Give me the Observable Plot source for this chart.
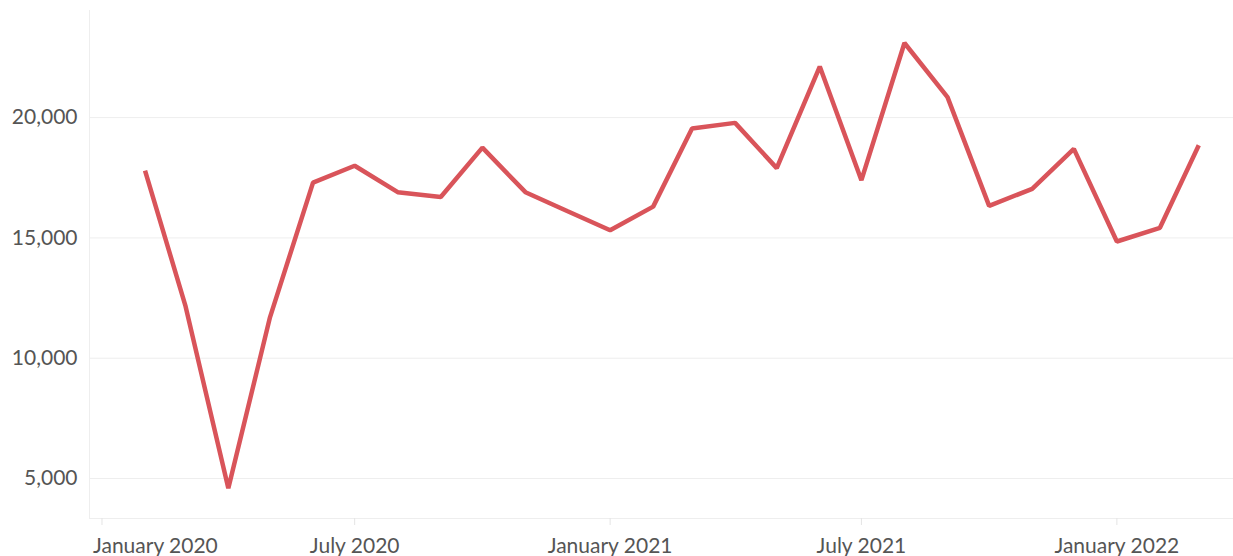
<!DOCTYPE html>
<html>
<head>
<meta charset="utf-8">
<script src="https://cdn.jsdelivr.net/npm/d3@7"></script>
<script src="https://cdn.jsdelivr.net/npm/@observablehq/plot@0.6"></script>
<style>
  html, body { margin: 0; padding: 0; background: #fff; }
  #chart svg { display: block; }
</style>
</head>
<body>
<div id="chart"></div>
<script>
// Monthly values (first of each month)
const months = ["2020-02","2020-03","2020-04","2020-05","2020-06","2020-07","2020-08","2020-09","2020-10","2020-11","2020-12",
                "2021-01","2021-02","2021-03","2021-04","2021-05","2021-06","2021-07","2021-08","2021-09","2021-10","2021-11","2021-12",
                "2022-01","2022-02","2022-03"];
const values = [17800,12200,4600,11700,17300,18000,16900,16700,18750,16900,16120,
                15320,16300,19550,19780,17900,22120,17400,23100,20850,16330,17040,18700,
                14850,15420,18850];
const xTicks = ["2020-01","2020-07","2021-01","2021-07","2022-01"];
const xTickLabels = ["January 2020","July 2020","January 2021","July 2021","January 2022"];
const yTicks = [5000, 10000, 15000, 20000];
const xDomain = ["2019-12-23","2022-03-26"];
const yDomain = [3340, 24450];

const parse = d3.utcParse("%Y-%m");
const parseDay = d3.utcParse("%Y-%m-%d");
const data = months.map((m, i) => ({date: parse(m), value: values[i]}));
const tickDates = xTicks.map(parse);
const labelOf = new Map(tickDates.map((d, i) => [+d, xTickLabels[i]]));
const fmt = d => labelOf.get(+d);

const font = "Lato, 'Open Sans', sans-serif";
const textColor = "#555555";
const lineColor = "#eeeeee";
const fs = 21;

const chart = Plot.plot({
  width: 1233,
  height: 556,
  marginTop: 10,
  marginBottom: 38,
  marginLeft: 89,
  marginRight: 0,
  style: {fontFamily: font, fontSize: fs + "px", color: textColor, background: "#fff"},
  x: {type: "utc", domain: xDomain.map(parseDay)},
  y: {domain: yDomain},
  marks: [
    Plot.gridY(yTicks, {stroke: lineColor, strokeOpacity: 1}),
    Plot.frame({anchor: "left", stroke: lineColor}),
    Plot.frame({anchor: "bottom", stroke: lineColor}),
    Plot.axisY(yTicks, {tickSize: 0, tickPadding: 12, tickFormat: d3.format(","), fill: textColor, fontSize: fs, label: null}),
    Plot.axisX(tickDates, {tickSize: 7, stroke: "#e4e4e4", text: null, label: null}),
    Plot.axisX(tickDates.slice(0, 1), {tickSize: 0, tickPadding: 20, tickFormat: fmt, textAnchor: "start", dx: -9, fill: textColor, fontSize: fs, label: null}),
    Plot.axisX(tickDates.slice(1), {tickSize: 0, tickPadding: 20, tickFormat: fmt, fill: textColor, fontSize: fs, label: null}),
    Plot.line(data, {x: "date", y: "value", stroke: "#d9545a", strokeWidth: 4.5, strokeLinejoin: "miter", strokeLinecap: "butt"})
  ]
});
document.getElementById("chart").append(chart);
</script>
</body>
</html>
